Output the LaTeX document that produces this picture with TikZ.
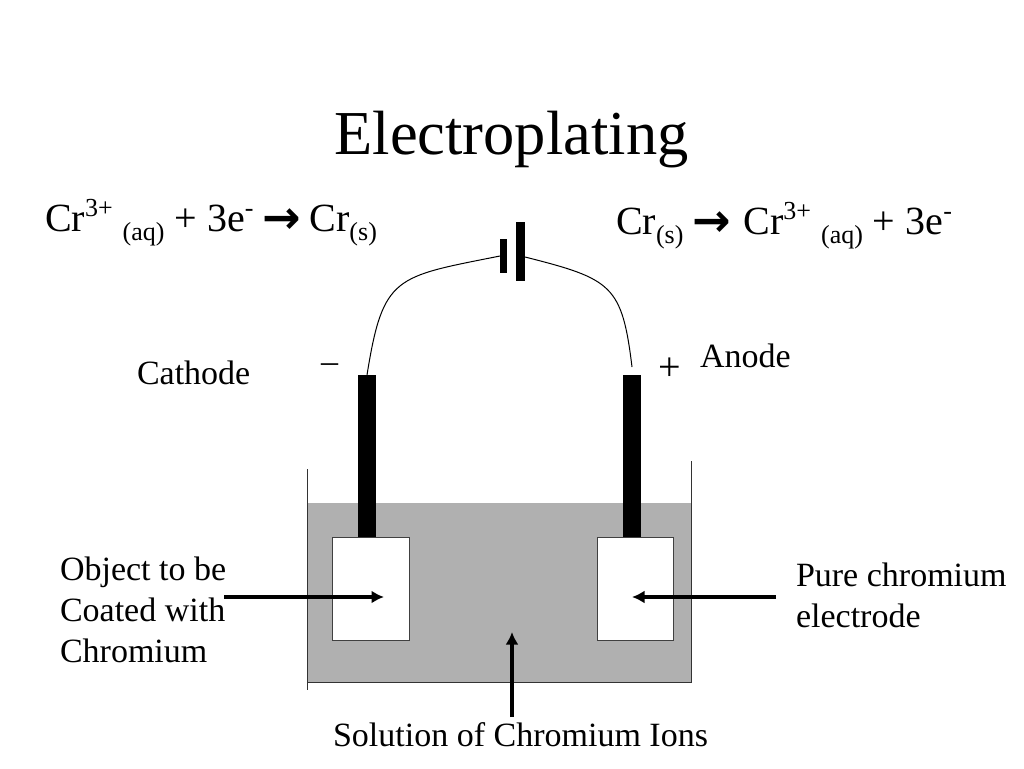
\documentclass[tikz,border=0pt]{standalone}
\usepackage{fontspec}
\setmainfont{Liberation Serif}
\newfontfamily\arrowfont{DejaVu Sans}
\newcommand{\bigsize}{\fontsize{40}{44}\selectfont}
\newcommand{\smallsize}{\fontsize{26}{30}\selectfont}
\newcommand{\supsize}[1]{\raisebox{15pt}{\smallsize #1}}
\newcommand{\subsize}[1]{\raisebox{-9pt}{\smallsize #1}}
\newcommand{\rightarr}{\makebox[36pt][c]{\raisebox{-2pt}{\arrowfont\bfseries\fontsize{46}{44}\selectfont →}}}
\tikzset{
  plain/.style={inner sep=0pt, outer sep=0pt, font=\fontsize{34}{41}\selectfont, align=left},
  equation/.style={inner sep=0pt, outer sep=0pt, font=\bigsize},
  rod/.style={fill=black, inner sep=0pt, outer sep=0pt, minimum width=18, minimum height=162},
  object/.style={draw=black!75, fill=white, line width=0.9, inner sep=0pt, outer sep=0pt, minimum width=76.5, minimum height=103},
  plate/.style={fill=black, inner sep=0pt, outer sep=0pt},
  wire/.style={line width=1},
  pointer/.style={line width=3.2, -{Latex[length=12.5,width=13]}},
  wall/.style={draw=black!80, line width=1}
}
\usetikzlibrary{arrows.meta}
\begin{document}
\begin{tikzpicture}[x=1pt,y=-1pt]
\useasboundingbox (0,0) rectangle (1024,768);
% bath
\node[fill=black!31, inner sep=0pt, outer sep=0pt, minimum width=384, minimum height=179](bath) at (499.5,592.5) {};
\coordinate (la) at (307,469);
\coordinate (lb) at (307,690);
\coordinate (ra) at (691.5,461);
\coordinate (rb) at (691.5,682);
\coordinate (lc) at (307,682);
\draw[wall] (la) -- (lb);
\draw[wall] (ra) -- (rb) -- (lc);
% electrodes
\node[rod](rodl) at (367,456) {};
\node[rod](rodr) at (631.5,456) {};
\node[object](objl) at (371,588.5) {};
\node[object](objr) at (635.5,588.5) {};
% cell
\node[plate, minimum width=7, minimum height=34](cellneg) at (503.5,256) {};
\node[plate, minimum width=9, minimum height=59](cellpos) at (520.5,251.5) {};
\coordinate (wireend) at (632,367);
\draw[wire] (cellneg.west) .. controls (395,277) and (383,275) .. (rodl.north);
\draw[wire] ([yshift=-5.5pt]cellpos.east) .. controls (612,279) and (622,285) .. (wireend);
% text
\node[font=\fontsize{62.5}{70}\selectfont, inner sep=0pt](title) at (511.5,140) {Electroplating};
\node[equation, anchor=base west](eqleft) at (45,231) {Cr\supsize{3+} \subsize{(aq)} + 3e\supsize{-} \rightarr{} Cr\subsize{(s)}};
\node[equation, anchor=base west](eqright) at (616,234) {Cr\subsize{(s)} \rightarr{}\hspace{4pt} Cr\supsize{3+} \subsize{(aq)} + 3e\supsize{-}};
\node[plain, anchor=base west](cathode) at (137,384) {Cathode};
\node[plain, anchor=base west](anode) at (700,367) {Anode};
\node[plain, anchor=base](minus) at (329.5,372) {–};
\node[inner sep=0pt, outer sep=0pt, anchor=base, font=\fontsize{40}{44}\selectfont](plus) at (670,380) {+};
\node[plain, anchor=north west](objtext) at (60,557) {Object to be\\Coated with\\Chromium};
\node[plain, anchor=north west](puretext) at (796,563) {Pure chromium\\electrode};
\node[plain, anchor=base](soltext) at (520.5,746) {Solution of Chromium Ions};
% pointers
\coordinate (pl) at (224,597);
\coordinate (pla) at (384,597);
\coordinate (pr) at (776,597);
\coordinate (pra) at (632,597);
\coordinate (ps) at (512,717);
\coordinate (psa) at (512,632);
\draw[pointer] (pl) -- (pla);
\draw[pointer] (pr) -- (pra);
\draw[pointer] (ps) -- (psa);
\end{tikzpicture}
\end{document}
